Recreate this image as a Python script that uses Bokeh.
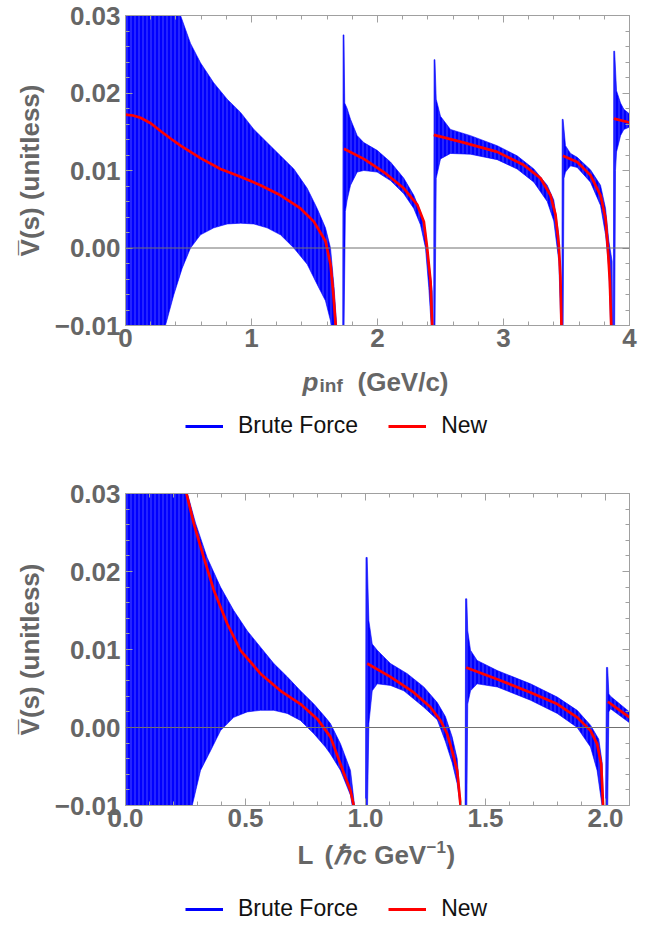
import math
from bokeh.plotting import figure
from bokeh.models import (Span, Legend, LegendItem, LinearAxis, FixedTicker,
                          CustomJSTickFormatter, Range1d)
from bokeh.core.properties import value
from bokeh.layouts import column
from bokeh.embed import file_html
from bokeh.resources import INLINE

N = float("nan")

# ---------------- top panel (x = p_inf, GeV/c) ----------------
top_x_ticks = [0, 1, 2, 3, 4]
top_x_labels = ["0", "1", "2", "3", "4"]
y_ticks = [-0.01, 0.0, 0.01, 0.02, 0.03]
y_labels = ["\u22120.01", "0.00", "0.01", "0.02", "0.03"]

top_new_x = [0.000, 0.060, 0.119, 0.200, 0.278, 0.360, 0.437, 0.595, 0.754, 0.913, 1.071, 1.230, 1.389, 1.495, 1.587, 1.627, 1.650, 1.668, N,
             1.733, 1.891, 2.050, 2.209, 2.315, 2.368, 2.394, 2.421, 2.434, N,
             2.447, 2.685, 2.950, 3.161, 3.294, 3.373, 3.413, 3.439, 3.452, 3.460, N,
             3.471, 3.585, 3.690, 3.770, 3.810, 3.828, 3.844, 3.855, N,
             3.876, 4.000]
top_new_y = [0.0172, 0.0171, 0.0168, 0.0161, 0.0151, 0.0141, 0.0132, 0.0116, 0.0102, 0.0092, 0.0081, 0.0068, 0.0051, 0.0034, 0.0009, -0.0021, -0.0060, -0.0100, N,
             0.0128, 0.0115, 0.0098, 0.0077, 0.0056, 0.0034, 0.0000, -0.0043, -0.0100, N,
             0.0146, 0.0136, 0.0124, 0.0107, 0.0090, 0.0068, 0.0043, 0.0004, -0.0038, -0.0100, N,
             0.0119, 0.0111, 0.0094, 0.0068, 0.0038, 0.0000, -0.0043, -0.0100, N,
             0.0167, 0.0162]

top_bf_upper_x = [0.000, 0.425, 0.437, 0.516, 0.595, 0.701, 0.807, 0.913, 1.019, 1.124, 1.230, 1.336, 1.442, 1.521, 1.587, 1.627, 1.655, 1.680, N,
                  1.724, 1.727, 1.734, 1.740, 1.759, 1.786, 1.839, 1.891, 1.997, 2.103, 2.209, 2.288, 2.341, 2.381, 2.407, 2.434, 2.440, N,
                  2.446, 2.449, 2.456, 2.466, 2.500, 2.579, 2.738, 2.950, 3.108, 3.241, 3.347, 3.399, 3.439, 3.452, 3.462, N,
                  3.463, 3.466, 3.473, 3.492, 3.532, 3.585, 3.690, 3.770, 3.810, 3.836, 3.862, 3.866, N,
                  3.872, 3.875, 3.882, 3.897, 3.929, 3.955, 4.000]
top_bf_upper_y = [0.031, 0.031, 0.0300, 0.0264, 0.0239, 0.0213, 0.0192, 0.0175, 0.0153, 0.0136, 0.0119, 0.0102, 0.0077, 0.0051, 0.0026, 0.0000, -0.0050, -0.011, N,
                  -0.011, 0.0275, 0.0275, 0.0187, 0.0180, 0.0166, 0.0145, 0.0136, 0.0126, 0.0111, 0.0090, 0.0068, 0.0047, 0.0021, -0.0017, -0.0055, -0.011, N,
                  -0.011, 0.0243, 0.0243, 0.0192, 0.0170, 0.0153, 0.0145, 0.0132, 0.0119, 0.0102, 0.0081, 0.0062, 0.0017, -0.0040, -0.011, N,
                  -0.011, 0.0166, 0.0166, 0.0132, 0.0122, 0.0117, 0.0101, 0.0081, 0.0051, 0.0009, -0.0017, -0.011, N,
                  -0.011, 0.0254, 0.0254, 0.0203, 0.0187, 0.0179, 0.0173]
top_bf_lower_x = [0.000, 0.317, 0.384, 0.450, 0.516, 0.595, 0.701, 0.807, 0.913, 1.019, 1.124, 1.230, 1.336, 1.442, 1.521, 1.587, 1.627, 1.640, 1.680, N,
                  1.724, 1.734, 1.745, 1.759, 1.786, 1.839, 1.891, 1.997, 2.103, 2.209, 2.288, 2.341, 2.381, 2.407, 2.430, 2.440, N,
                  2.446, 2.456, 2.466, 2.500, 2.579, 2.738, 2.950, 3.108, 3.241, 3.347, 3.399, 3.439, 3.457, N,
                  3.463, 3.473, 3.480, 3.492, 3.532, 3.585, 3.690, 3.770, 3.810, 3.836, 3.852, N,
                  3.872, 3.882, 3.889, 3.897, 3.929, 3.955, 4.000]
top_bf_lower_y = [-0.011, -0.0100, -0.0060, -0.0026, 0.0000, 0.0017, 0.0026, 0.0031, 0.0032, 0.0031, 0.0026, 0.0017, 0.0000, -0.0021, -0.0047, -0.0068, -0.0094, -0.011, -0.011, N,
                  -0.011, -0.011, 0.0047, 0.0062, 0.0081, 0.0098, 0.0100, 0.0098, 0.0087, 0.0070, 0.0051, 0.0030, 0.0000, -0.0051, -0.011, -0.011, N,
                  -0.011, -0.011, 0.0090, 0.0115, 0.0122, 0.0121, 0.0114, 0.0102, 0.0085, 0.0060, 0.0035, -0.0017, -0.011, N,
                  -0.011, -0.011, 0.0090, 0.0098, 0.0106, 0.0104, 0.0085, 0.0055, 0.0017, -0.0026, -0.011, N,
                  -0.011, -0.011, 0.0100, 0.0124, 0.0145, 0.0153, 0.0156]

# ---------------- bottom panel (x = L, hbar c / GeV) ----------------
bot_x_ticks = [0.0, 0.5, 1.0, 1.5, 2.0]
bot_x_labels = ["0.0", "0.5", "1.0", "1.5", "2.0"]

bot_new_x = [0.250, 0.285, 0.326, 0.368, 0.424, 0.479, 0.5625, 0.646, 0.729, 0.799, 0.854, 0.896, 0.9375, 0.951, N,
             1.007, 1.104, 1.201, 1.271, 1.3125, 1.340, 1.361, 1.382, 1.396, N,
             1.419, 1.549, 1.6875, 1.799, 1.882, 1.9375, 1.965, 1.982, 1.990, N,
             2.010, 2.100]
bot_new_y = [0.0305, 0.0261, 0.0218, 0.0176, 0.0133, 0.0099, 0.0069, 0.0047, 0.0030, 0.0011, -0.0012, -0.0047, -0.0081, -0.0100, N,
             0.0082, 0.0065, 0.0045, 0.0026, 0.0009, -0.0008, -0.0030, -0.0055, -0.0100, N,
             0.0077, 0.0062, 0.0045, 0.0030, 0.0013, -0.0004, -0.0021, -0.0047, -0.0100, N,
             0.0033, 0.0013]

bot_bf_upper_x = [0.000, 0.250, 0.258, 0.292, 0.340, 0.396, 0.451, 0.507, 0.5625, 0.618, 0.674, 0.729, 0.785, 0.833, 0.854, 0.896, 0.9375, 0.958, N,
                  1.000, 1.002, 1.007, 1.014, 1.028, 1.049, 1.104, 1.174, 1.243, 1.299, 1.333, 1.361, 1.382, 1.399, N,
                  1.415, 1.417, 1.422, 1.426, 1.4375, 1.465, 1.549, 1.6875, 1.799, 1.882, 1.9375, 1.972, 1.986, 1.992, N,
                  2.000, 2.004, 2.009, 2.014, 2.021, 2.100]
bot_bf_upper_y = [0.031, 0.031, 0.0300, 0.0262, 0.0218, 0.0180, 0.0150, 0.0124, 0.0103, 0.0082, 0.0065, 0.0047, 0.0030, 0.0013, 0.0005, -0.0021, -0.0055, -0.011, N,
                  -0.011, 0.0218, 0.0218, 0.0137, 0.0107, 0.0099, 0.0082, 0.0069, 0.0052, 0.0032, 0.0014, -0.0012, -0.0040, -0.011, N,
                  -0.011, 0.0165, 0.0165, 0.0124, 0.0099, 0.0086, 0.0073, 0.0056, 0.0039, 0.0022, 0.0003, -0.0015, -0.0045, -0.011, N,
                  -0.011, 0.0077, 0.0077, 0.0043, 0.0040, 0.0020]
bot_bf_lower_x = [0.000, 0.278, 0.3125, 0.354, 0.396, 0.451, 0.507, 0.5625, 0.618, 0.674, 0.729, 0.785, 0.833, 0.854, 0.896, 0.9375, 0.950, N,
                  1.000, 1.008, 1.014, 1.028, 1.049, 1.104, 1.160, 1.243, 1.299, 1.333, 1.361, 1.382, 1.399, N,
                  1.415, 1.422, 1.426, 1.4375, 1.465, 1.549, 1.6875, 1.799, 1.882, 1.9375, 1.965, 1.990, N,
                  2.000, 2.009, 2.014, 2.021, 2.100]
bot_bf_lower_y = [-0.011, -0.0100, -0.0055, -0.0030, -0.0004, 0.0013, 0.0020, 0.0022, 0.0022, 0.0018, 0.0009, -0.0008, -0.0025, -0.0034, -0.0055, -0.0087, -0.011, N,
                  -0.011, -0.011, 0.0005, 0.0047, 0.0056, 0.0054, 0.0047, 0.0026, 0.0010, -0.0018, -0.0045, -0.0072, -0.011, N,
                  -0.011, -0.011, 0.0030, 0.0047, 0.0056, 0.0052, 0.0035, 0.0018, 0.0000, -0.0025, -0.0055, -0.011, N,
                  -0.011, -0.011, 0.0020, 0.0024, 0.0006]

legend_labels = ["Brute Force", "New"]

# ---------------- style ----------------
BLUE = "#0000ff"
RED = "#ff0000"
GRAY = "#666666"
FRAME = "#a0a0a0"
FONT = "Liberation Sans"
FS = "26px"

FMT_CODE = """
let best = 0, bd = Infinity;
for (let i = 0; i < tv.length; i++) {
  const d = Math.abs(tv[i] - tick);
  if (d < bd) { bd = d; best = i; }
}
return tl[best];
"""


def split(xs, ys):
    segs, cx, cy = [], [], []
    for x, y in zip(xs, ys):
        if isinstance(x, float) and math.isnan(x):
            if cx:
                segs.append((cx, cy))
            cx, cy = [], []
        else:
            cx.append(x)
            cy.append(y)
    if cx:
        segs.append((cx, cy))
    return segs


def band(ux, uy, lx, ly):
    xs, ys = [], []
    for (a, b), (c, d) in zip(split(ux, uy), split(lx, ly)):
        xs.append(a + c[::-1])
        ys.append(b + d[::-1])
    return xs, ys


def make_fig(xr, x_ticks, x_labels, x_minor, top_border, frame_h, bottom_border):
    p = figure(x_range=Range1d(*xr), y_range=Range1d(-0.01, 0.03),
               frame_width=504, frame_height=frame_h,
               min_border_left=125, min_border_right=35,
               min_border_top=top_border, min_border_bottom=bottom_border,
               output_backend="svg", toolbar_location=None,
               background_fill_color="white", border_fill_color="white")
    p.grid.visible = False
    p.outline_line_color = FRAME
    p.add_layout(LinearAxis(), "above")
    p.add_layout(LinearAxis(), "right")
    xt = FixedTicker(ticks=x_ticks, minor_ticks=x_minor)
    yt = FixedTicker(ticks=y_ticks, minor_ticks=[round(-0.01 + 0.002 * i, 4) for i in range(21)])
    for ax in p.xaxis:
        ax.ticker = xt
    for ax in p.yaxis:
        ax.ticker = yt
    for ax in p.axis:
        ax.axis_line_color = FRAME
        ax.major_tick_line_color = FRAME
        ax.minor_tick_line_color = FRAME
        ax.major_tick_in = 7
        ax.major_tick_out = 0
        ax.minor_tick_in = 4
        ax.minor_tick_out = 0
        ax.major_label_text_font = FONT
        ax.major_label_text_font_style = "bold"
        ax.major_label_text_font_size = FS
        ax.major_label_text_color = GRAY
        ax.axis_label_text_font = FONT
        ax.axis_label_text_font_style = "bold"
        ax.axis_label_text_font_size = FS
        ax.axis_label_text_color = GRAY
    for ax in (p.above[0], p.right[0]):
        ax.formatter = CustomJSTickFormatter(code="return '';")
        ax.major_label_text_font_size = "0px"
        ax.major_label_standoff = 0
    p.below[0].formatter = CustomJSTickFormatter(args=dict(tv=x_ticks, tl=x_labels), code=FMT_CODE)
    p.left[0].formatter = CustomJSTickFormatter(args=dict(tv=y_ticks, tl=y_labels), code=FMT_CODE)
    p.below[0].major_label_standoff = 3
    p.left[0].major_label_standoff = 5
    p.left[0].axis_label = "V\u0305(s) (unitless)"
    p.left[0].axis_label_standoff = 7
    return p


def draw(p, ux, uy, lx, ly, nx, ny):
    bx, by = band(ux, uy, lx, ly)
    p.patches(bx, by, fill_color=BLUE, line_color=BLUE, line_width=0.6,
              hatch_pattern="vertical_line", hatch_color="white", hatch_alpha=0.28,
              hatch_scale=4, hatch_weight=1)
    p.line(nx, ny, line_color=RED, line_width=2.7)
    p.add_layout(Span(location=0, dimension="width", line_color="#707070", line_width=1))


def footer(height, pieces, legend_xy):
    # frame spans page x 125..629 (aligned with the plots above); data x = page x
    f = figure(frame_width=504, frame_height=height,
               min_border_left=125, min_border_right=35, min_border_top=0, min_border_bottom=0,
               x_range=Range1d(125, 629), y_range=Range1d(0, height),
               x_axis_location=None, y_axis_location=None,
               output_backend="svg", toolbar_location=None,
               background_fill_color="white", border_fill_color="white")
    f.grid.visible = False
    f.outline_line_color = None
    for txt, x, y, size, style in pieces:
        f.text(x=[x], y=[y], text=[txt], text_font=value(FONT), text_font_size=size,
               text_font_style=style, text_color=GRAY, text_baseline="alphabetic", text_align="left")
    kb = f.line([N, N], [N, N], line_color=BLUE, line_width=3)
    kr = f.line([N, N], [N, N], line_color=RED, line_width=3)
    leg = Legend(items=[LegendItem(label=legend_labels[0], renderers=[kb]),
                        LegendItem(label=legend_labels[1], renderers=[kr])],
                 orientation="horizontal", location=legend_xy,
                 border_line_color=None, background_fill_alpha=0,
                 label_text_font=FONT, label_text_font_size="23px", label_text_color="#111111",
                 glyph_width=38, glyph_height=20, label_standoff=15, spacing=30,
                 padding=0, margin=0)
    f.add_layout(leg, "center")
    return f


# ---------------- top ----------------
p1 = make_fig((0, 4), top_x_ticks, top_x_labels, [round(0.2 * i, 2) for i in range(21)], 15, 310, 36)
draw(p1, top_bf_upper_x, top_bf_upper_y, top_bf_lower_x, top_bf_lower_y, top_new_x, top_new_y)
f1 = footer(104, [("p", 302, 84, FS, "bold italic"),
                  ("inf", 319, 80, "19px", "bold"),
                  ("(GeV/c)", 357, 84, FS, "bold")], (60, 26))

# ---------------- bottom ----------------
p2 = make_fig((0, 2.1), bot_x_ticks, bot_x_labels, [round(0.1 * i, 2) for i in range(22)], 28, 312, 34)
draw(p2, bot_bf_upper_x, bot_bf_upper_y, bot_bf_lower_x, bot_bf_lower_y, bot_new_x, bot_new_y)
f2 = footer(90, [("L", 297, 75, FS, "bold"),
                 ("(", 324, 75, FS, "bold"),
                 ("\u210f", 333, 75, FS, "bold italic"),
                 ("c GeV", 352, 75, FS, "bold"),
                 ("\u22121", 426, 83, "17px", "bold"),
                 (")", 446, 75, FS, "bold")], (60, 7))

layout = column(p1, f1, p2, f2, spacing=0)
open("out.html", "w").write(file_html(layout, INLINE))
